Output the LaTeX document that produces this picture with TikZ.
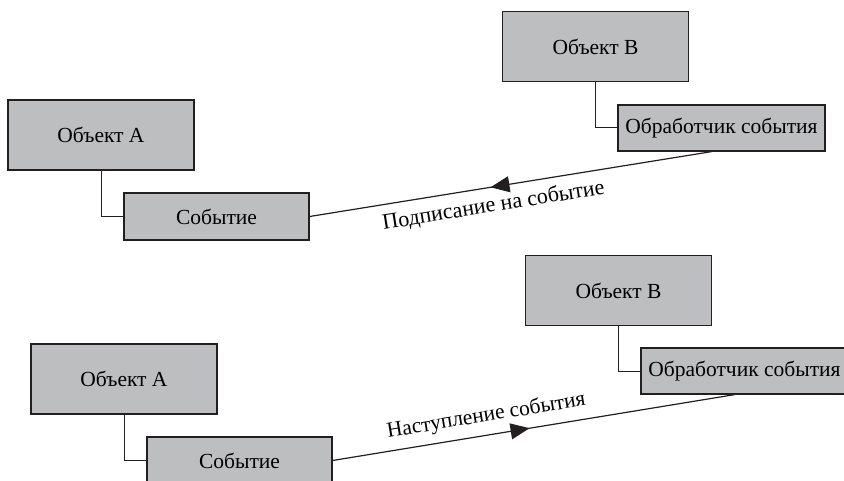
\documentclass[tikz,border=0pt]{standalone}
\usepackage{fontspec}
\setmainfont{Liberation Serif}
\usetikzlibrary{arrows.meta, decorations.markings}

\definecolor{boxgray}{RGB}{189,190,192}
\definecolor{ink}{RGB}{35,31,32}

\tikzset{
	obj/.style={draw=ink, fill=boxgray, line width=1.3pt, rectangle, inner sep=0pt,
		minimum width=186pt, minimum height=70pt, font=\fontsize{21.5}{26}\selectfont},
	part/.style={obj, minimum width=185pt, minimum height=47pt},
	handler/.style={obj, minimum width=207pt, minimum height=46pt},
	link/.style={draw=ink, line width=1pt},
	msg/.style={draw=ink, line width=1.2pt, postaction={decorate},
		decoration={markings, mark=at position #1 with {\arrow{Triangle[length=19pt, width=16pt]}}}},
	lbl/.style={font=\fontsize{#1}{26}\selectfont, sloped},
}

\begin{document}
\begin{tikzpicture}[x=1pt, y=-1pt]
	\useasboundingbox (0, 0) rectangle (844, 481);
	\clip (0, 0) rectangle (844, 481);
	% subscription
	\node (objA1) at (101, 135)		[obj]		{Объект А};
	\node (event1) at (216.5, 216.5)	[part]		{Событие};
	\node (objB1) at (595.5, 46.5)	[obj]		{Объект В};
	\node (handler1) at (721.5, 128)	[handler]	{Обработчик события};
	\draw[link] (objA1.south) |- (event1.west);
	\draw[link] (objB1.south) |- (handler1.west);
	\draw[msg=0.55] ([xshift=-10pt]handler1.south) -- (event1.east)
		node[lbl=22, pos=0.55, below=5pt] {Подписание на событие};
	% raising the event
	\node (objA2) at (124, 379)		[obj]		{Объект А};
	\node (event2) at (239.5, 460.5)	[part]		{Событие};
	\node (objB2) at (618.5, 290.5)	[obj]		{Объект В};
	\node (handler2) at (744.5, 371)	[handler]	{Обработчик события};
	\draw[link] (objA2.south) |- (event2.west);
	\draw[link] (objB2.south) |- (handler2.west);
	\draw[msg=0.49] (event2.east) -- ([xshift=-10pt]handler2.south)
		node[lbl=21.5, pos=0.39, above=5pt] {Наступление события};
\end{tikzpicture}
\end{document}
